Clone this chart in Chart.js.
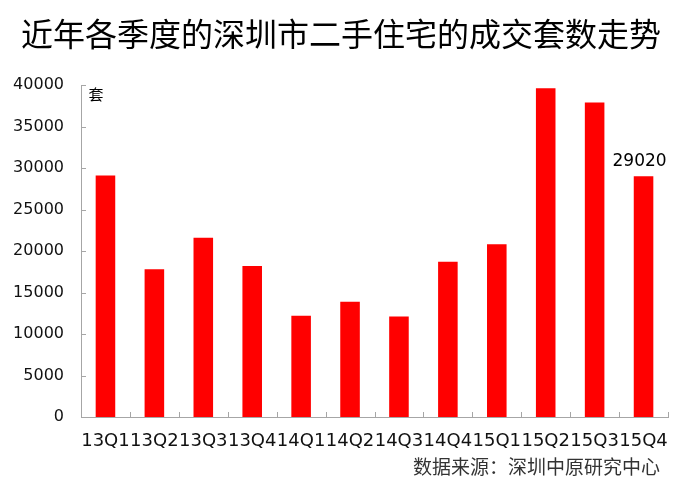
<!DOCTYPE html>
<html>
<head>
<meta charset="utf-8">
<script src="https://cdn.jsdelivr.net/npm/chart.js@4/dist/chart.umd.min.js"></script>
<style>
  html, body { margin: 0; padding: 0; background: #fff; }
  #wrap { width: 680px; height: 488px; }
</style>
</head>
<body>
<div id="wrap"><canvas id="chart"></canvas></div>
<script>
const title = "近年各季度的深圳市二手住宅的成交套数走势";
const source = "数据来源：深圳中原研究中心";
const unit = "套";
const quarters = ["13Q1", "13Q2", "13Q3", "13Q4", "14Q1", "14Q2", "14Q3", "14Q4", "15Q1", "15Q2", "15Q3", "15Q4"];
const deals = [29100, 17800, 21600, 18200, 12200, 13900, 12100, 18700, 20800, 39600, 37900, 29020];
const yTicks = [0, 5000, 10000, 15000, 20000, 25000, 30000, 35000, 40000];

const axisGray = "#a6a6a6";
const tickFont = "DejaVu Sans";
const cjkFont = "'Noto Sans CJK SC'";

// texts and inward tick marks
const extras = {
  id: "extras",
  afterDraw(chart) {
    const { ctx, chartArea: a, scales: { x, y } } = chart;
    ctx.save();

    // inward tick marks
    ctx.strokeStyle = axisGray;
    ctx.lineWidth = 1;
    ctx.beginPath();
    yTicks.slice(1).forEach((v) => {
      const py = Math.round(y.getPixelForValue(v)) + 0.5;
      ctx.moveTo(a.left, py);
      ctx.lineTo(a.left + 5, py);
    });
    quarters.forEach((q, i) => {
      const edge = i + 1 < quarters.length
        ? (x.getPixelForValue(i) + x.getPixelForValue(i + 1)) / 2
        : a.right;
      const px = Math.round(edge) + 0.5;
      ctx.moveTo(px, a.bottom);
      ctx.lineTo(px, a.bottom - 5);
    });
    ctx.stroke();

    // title
    ctx.fillStyle = "#000";
    ctx.textAlign = "center";
    ctx.textBaseline = "middle";
    ctx.font = `32px ${cjkFont}`;
    ctx.fillText(title, 341, 34);

    // unit
    ctx.font = `15px ${cjkFont}`;
    ctx.fillText(unit, a.left + 15, a.top + 9);

    // value on last bar
    const last = chart.getDatasetMeta(0).data[deals.length - 1];
    ctx.font = `17px ${tickFont}`;
    ctx.textBaseline = "alphabetic";
    ctx.fillText(String(deals[deals.length - 1]), last.x - 4, last.y - 10);

    // source
    ctx.fillStyle = "#333";
    ctx.textAlign = "right";
    ctx.textBaseline = "middle";
    ctx.font = `19px ${cjkFont}`;
    ctx.fillText(source, 660, 467);

    ctx.restore();
  },
};

new Chart(document.getElementById("chart"), {
  type: "bar",
  data: {
    labels: quarters,
    datasets: [
      {
        data: deals,
        backgroundColor: "#ff0000",
        barPercentage: 0.4,
        categoryPercentage: 1,
      },
    ],
  },
  options: {
    responsive: true,
    maintainAspectRatio: false,
    animation: false,
    layout: { padding: { top: 85, right: 12, bottom: 37, left: 0 } },
    plugins: {
      legend: { display: false },
      tooltip: { enabled: false },
    },
    scales: {
      x: {
        offset: true,
        grid: { display: false },
        border: { display: true, color: axisGray, width: 1 },
        ticks: {
          color: "#111",
          font: { family: tickFont, size: 18 },
          padding: 6,
          maxRotation: 0,
          autoSkip: false,
        },
        afterFit: (s) => { s.height = 34; },
      },
      y: {
        min: 0,
        max: 40000,
        grid: { display: false },
        border: { display: true, color: axisGray, width: 1 },
        ticks: {
          stepSize: 5000,
          color: "#111",
          font: { family: tickFont, size: 16 },
          padding: 9,
          callback: (v) => String(v),
        },
        afterFit: (s) => { s.width = 81; },
      },
    },
  },
  plugins: [extras],
});
</script>
</body>
</html>
